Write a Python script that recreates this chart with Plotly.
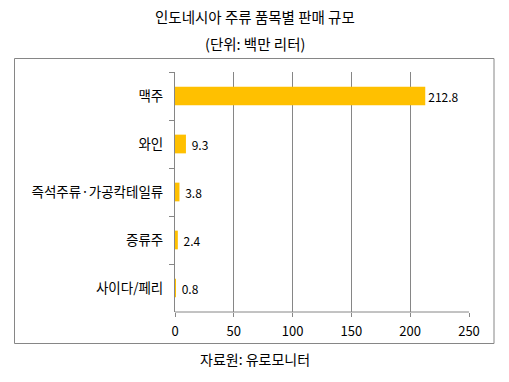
import plotly.graph_objects as go

categories = ["맥주", "와인", "즉석주류·가공칵테일류", "증류주", "사이다/페리"]
values = [212.8, 9.3, 3.8, 2.4, 0.8]
value_labels = ["212.8", "9.3", "3.8", "2.4", "0.8"]
x_ticks = [0, 50, 100, 150, 200, 250]

FONT = "Noto Sans CJK KR"
GREY = "#868686"

label_templates = ["%{text}"] + [" %{text}"] * (len(values) - 1)

fig = go.Figure(go.Bar(
    y=categories, x=values, orientation="h",
    marker=dict(color="#FFC000", line=dict(width=0)),
    text=value_labels, texttemplate=label_templates, textposition="outside", cliponaxis=False,
    textfont=dict(family=FONT, size=12, color="#000000"),
    width=0.39, hoverinfo="skip",
))

L, R, T, B = 175, 40, 72, 70
W, H = 509, 382
pw, ph = W - L - R, H - T - B

def px(x):
    return (x - L) / pw

def py(y):
    return (H - B - y) / ph

fig.update_layout(
    width=W, height=H,
    margin=dict(l=L, r=R, t=T, b=B, autoexpand=False),
    paper_bgcolor="white", plot_bgcolor="white",
    font=dict(family=FONT, size=12, color="#000000"),
    showlegend=False,
    xaxis=dict(range=[0, 250], tickvals=x_ticks, showgrid=True, gridcolor=GREY, gridwidth=1,
               zeroline=False, showline=False, ticks="outside", ticklen=4, tickcolor=GREY,
               tickfont=dict(size=13, family=FONT), ticklabelstandoff=3),
    yaxis=dict(autorange="reversed", showline=True, linecolor=GREY, linewidth=1,
               ticks="outside", tickson="boundaries", ticklen=5, tickcolor=GREY,
               showgrid=False, tickfont=dict(size=13.5, family=FONT), ticklabelstandoff=8),
    shapes=[
        dict(type="rect", xref="paper", yref="paper",
             x0=px(14.5), x1=px(494), y0=py(343.5), y1=py(58.5),
             line=dict(color=GREY, width=1), fillcolor="rgba(0,0,0,0)", layer="below"),
        dict(type="line", xref="paper", yref="paper", x0=0, x1=1, y0=0, y1=0,
             line=dict(color=GREY, width=1)),
    ],
    annotations=[
        dict(text="인도네시아 주류 품목별 판매 규모", xref="paper", yref="paper",
             x=px(254.5), y=py(17), xanchor="center", yanchor="middle",
             showarrow=False, font=dict(size=14.5, family=FONT)),
        dict(text="(단위: 백만 리터)", xref="paper", yref="paper",
             x=px(254.5), y=py(43), xanchor="center", yanchor="middle",
             showarrow=False, font=dict(size=14.5, family=FONT)),
        dict(text="자료원: 유로모니터", xref="paper", yref="paper",
             x=px(254.5), y=py(359), xanchor="center", yanchor="middle",
             showarrow=False, font=dict(size=14, family=FONT)),
    ],
)

fig.write_html("out.html", config={"displayModeBar": False},
               post_script="document.body.style.margin='0';")
